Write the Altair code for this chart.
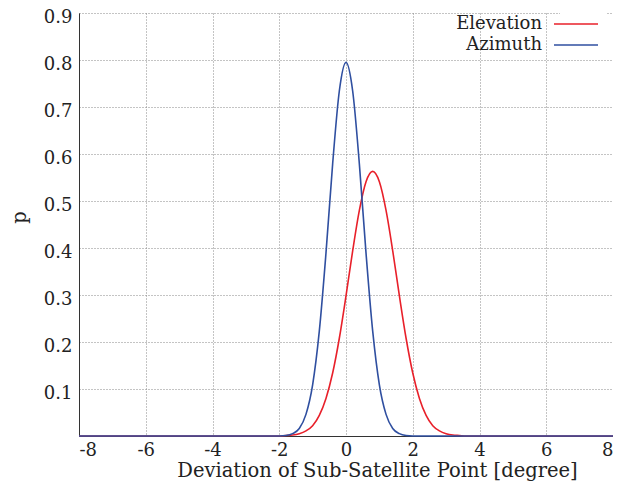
import altair as alt
import pandas as pd

x_vals = [-8.0, -2.0, -1.8, -1.6, -1.4, -1.2, -1.0, -0.8, -0.6, -0.4, -0.2, 0.0,
          0.2, 0.4, 0.6, 0.8, 1.0, 1.2, 1.4, 1.6, 1.8, 2.0, 2.2, 2.4, 2.6, 2.8,
          3.0, 3.2, 3.4, 3.6, 3.8, 4.0, 8.0]
elevation = [0.0, 0.000, 0.001, 0.002, 0.005, 0.011, 0.022, 0.044, 0.080, 0.134, 0.208, 0.298,
             0.394, 0.480, 0.541, 0.563, 0.541, 0.480, 0.394, 0.298, 0.208, 0.134, 0.080, 0.044,
             0.022, 0.011, 0.005, 0.002, 0.001, 0.000, 0.000, 0.000, 0.0]
azimuth = [0.0, 0.000, 0.001, 0.005, 0.016, 0.046, 0.109, 0.223, 0.389, 0.579, 0.734, 0.795,
           0.734, 0.579, 0.389, 0.223, 0.109, 0.046, 0.016, 0.005, 0.001, 0.000, 0.0, 0.0,
           0.0, 0.0, 0.0, 0.0, 0.0, 0.0, 0.0, 0.0, 0.0]
series_names = ["Elevation", "Azimuth"]
series_colors = ["#e8202a", "#2f4fa0"]
x_ticks = [-8, -6, -4, -2, 0, 2, 4, 6, 8]
y_ticks = [0.1, 0.2, 0.3, 0.4, 0.5, 0.6, 0.7, 0.8, 0.9]

rows = []
for i, x in enumerate(x_vals):
    rows.append({"x": x, "p": elevation[i], "series": "Elevation", "k": 0})
for i, x in enumerate(x_vals):
    rows.append({"x": x, "p": azimuth[i], "series": "Azimuth", "k": 1})
df = pd.DataFrame(rows)

FONT = "DejaVu Serif"

chart = alt.Chart(df).mark_line(strokeWidth=1.6, interpolate="monotone").encode(
    x=alt.X("x:Q", scale=alt.Scale(domain=[-8, 8], nice=False),
            axis=alt.Axis(values=x_ticks, labelExpr="'' + datum.value",
                          title="Deviation of Sub-Satellite Point [degree]",
                          titleX=298, titleY=40, titleBaseline="alphabetic",
                          labelPadding=5)),
    y=alt.Y("p:Q", scale=alt.Scale(domain=[0, 0.9], nice=False),
            axis=alt.Axis(values=y_ticks, format=".1f", title="p",
                          titleX=-60, titleY=204, titleBaseline="middle",
                          labelPadding=7, labelOffset=4)),
    color=alt.Color("series:N", scale=alt.Scale(domain=series_names, range=series_colors),
                    legend=alt.Legend(orient="none", legendX=481, legendY=-5, title=None,
                                      symbolType="M-2,0H2", symbolSize=484,
                                      symbolStrokeWidth=1.6, labelAlign="right",
                                      labelOffset={"expr": "-46"}, labelFont=FONT, labelFontSize=18,
                                      labelColor="#222", fillColor="white", padding=4,
                                      rowPadding=0)),
    order=alt.Order("k:Q"),
).properties(
    width=534, height=423,
    autosize=alt.AutoSizeParams(type="none"),
    padding={"left": 71, "top": 5, "right": 0, "bottom": 45},
).configure_axis(
    ticks=False,
    domainColor="#333",
    domainWidth=1,
    gridColor="#888",
    gridDash=[1, 2],
    gridWidth=1,
    labelFont=FONT,
    labelFontSize=18,
    labelColor="#222",
    titleFont=FONT,
    titleFontSize=19.5,
    titleFontWeight="normal",
    titleColor="#222",
).configure_view(stroke=None)

chart.save("out.html", embed_options={"renderer": "svg", "actions": False})
